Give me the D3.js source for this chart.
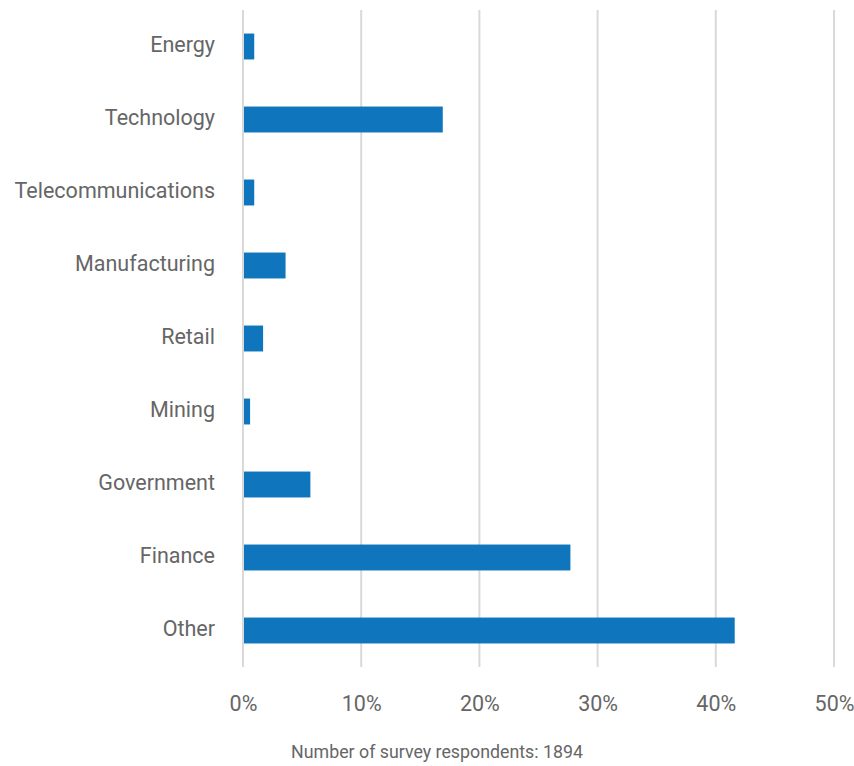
<!DOCTYPE html>
<html>
<head>
<meta charset="utf-8">
<script src="https://cdn.jsdelivr.net/npm/d3@7"></script>
<style>
  html, body { margin: 0; padding: 0; background: #fff; }
  svg { display: block; }
  text { font-family: Roboto, "Noto Sans", sans-serif; fill: #666; }
</style>
</head>
<body>
<svg id="chart" width="854" height="766"></svg>
<script>
// Industry breakdown of survey respondents (share of respondents, %)
const industries = ["Energy", "Technology", "Telecommunications", "Manufacturing", "Retail", "Mining", "Government", "Finance", "Other"];
const shares = [0.95, 16.9, 0.95, 3.6, 1.7, 0.6, 5.7, 27.7, 41.6];
const tickValues = [0, 10, 20, 30, 40, 50];
const tickLabels = ["0%", "10%", "20%", "30%", "40%", "50%"];
const caption = "Number of survey respondents: 1894";

const svg = d3.select("#chart");
const margin = { left: 243, top: 10 };
const plotRight = 834, plotBottom = 667;

const x = d3.scaleLinear().domain([0, 50]).range([margin.left, plotRight]);
const y = d3.scaleBand().domain(industries).range([margin.top, plotBottom]).paddingInner(0.645).paddingOuter(0.3225);

// vertical gridlines
svg.append("g").selectAll("line").data(tickValues).join("line")
  .attr("x1", d => x(d)).attr("x2", d => x(d))
  .attr("y1", margin.top).attr("y2", plotBottom)
  .attr("stroke", "#d9d9d9").attr("stroke-width", 2);

// bars
svg.append("g").selectAll("rect").data(industries).join("rect")
  .attr("x", x(0) + 1)
  .attr("y", d => y(d))
  .attr("width", (d, i) => x(shares[i]) - x(0) - 1)
  .attr("height", y.bandwidth())
  .attr("fill", "#0f75bc");

// category axis
const yAxis = d3.axisLeft(y).tickSize(0).tickPadding(28);
const gy = svg.append("g").attr("transform", `translate(${x(0)},0)`).call(yAxis);
gy.select(".domain").remove();
gy.selectAll("text")
  .style("font-size", "21.5px")
  .attr("fill", "#666")
  .attr("dy", "0.25em")
  .style("font-family", null);

// value axis
const xAxis = d3.axisBottom(x).tickValues(tickValues).tickFormat((d, i) => tickLabels[i]).tickSize(0).tickPadding(29);
const gx = svg.append("g").attr("transform", `translate(0,${plotBottom})`).call(xAxis);
gx.select(".domain").remove();
gx.selectAll("text").style("font-size", "21.5px").attr("fill", "#666").style("font-family", null);

// caption
svg.append("text")
  .attr("x", 437).attr("y", 758)
  .attr("text-anchor", "middle")
  .style("font-size", "17.8px")
  .attr("fill", "#555")
  .text(caption);
</script>
</body>
</html>
